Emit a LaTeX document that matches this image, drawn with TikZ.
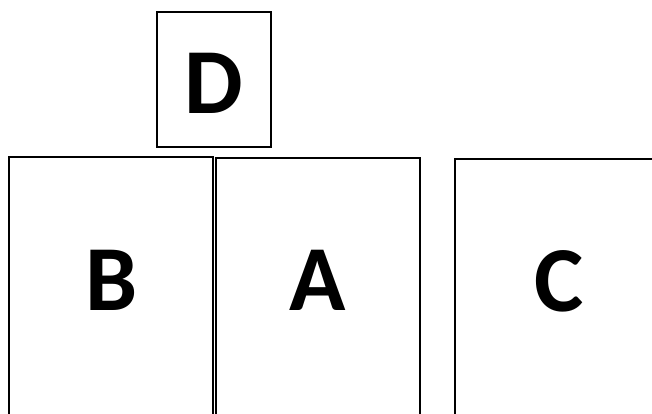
\documentclass[tikz,border=0pt]{standalone}
\usepackage{fontspec}
\setmainfont{Carlito}
\begin{document}
\begin{tikzpicture}[x=1pt,y=1pt,
  panel/.style={draw=black,line width=2pt,fill=none},
  letter/.style={font=\fontsize{93}{93}\selectfont\bfseries,inner sep=0pt}]
\useasboundingbox (0,0) rectangle (652,414);
\clip (0,0) rectangle (652,414);
% boxes (y measured upward from the bottom edge)
\draw[panel] (157,267) rectangle (271,402);
\draw[panel] (9,-20) rectangle (213,257);
\draw[panel] (216,-20) rectangle (420,256);
\draw[panel] (455,-20) rectangle (680,255);
% labels
\node[letter] (d) at (214,331) {D};
\node[letter] (b) at (112,134) {B};
\node[letter] (a) at (318,134) {A};
\node[letter] (c) at (559,133) {C};
\end{tikzpicture}
\end{document}
